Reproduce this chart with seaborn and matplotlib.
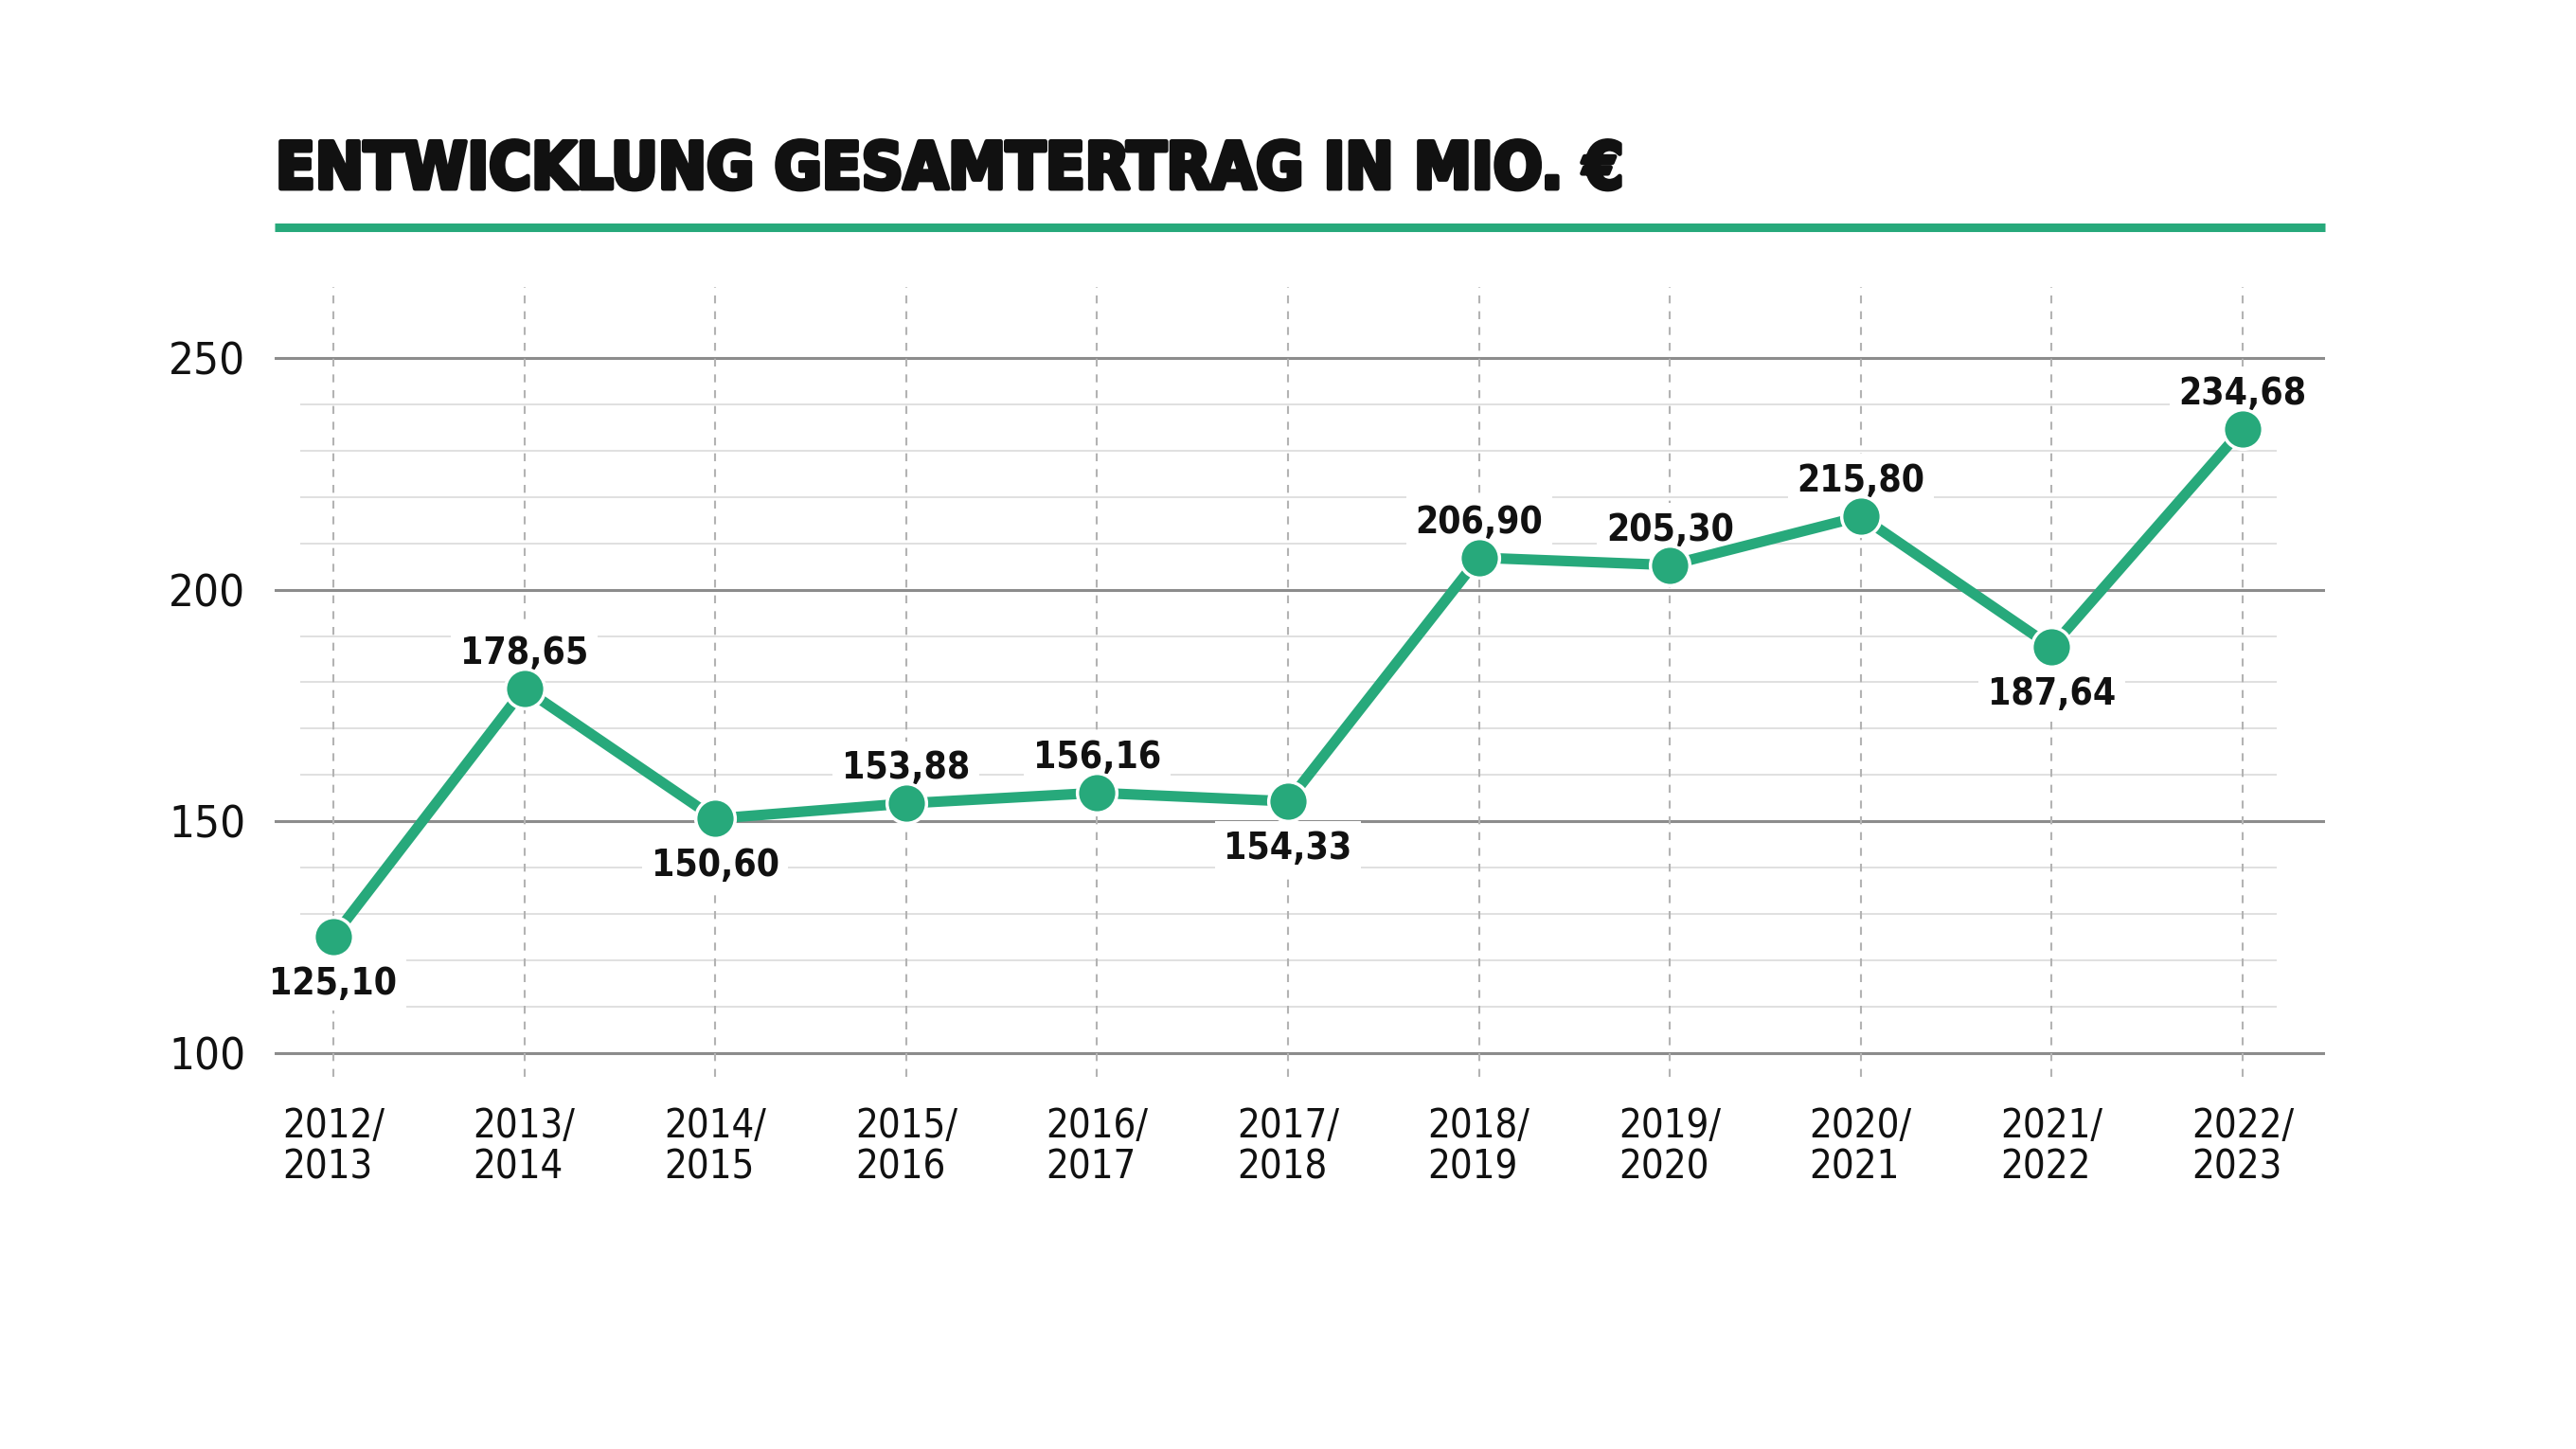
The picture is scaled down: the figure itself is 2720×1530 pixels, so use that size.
import matplotlib
matplotlib.use("Agg")
import matplotlib.pyplot as plt
import matplotlib.patheffects as pe
from matplotlib.lines import Line2D
import seaborn as sns
import pandas as pd

# ---- data ----
seasons = ["2012/\n2013", "2013/\n2014", "2014/\n2015", "2015/\n2016", "2016/\n2017",
           "2017/\n2018", "2018/\n2019", "2019/\n2020", "2020/\n2021", "2021/\n2022",
           "2022/\n2023"]
ertrag = [125.10, 178.65, 150.60, 153.88, 156.16, 154.33, 206.90, 205.30, 215.80, 187.64, 234.68]
value_labels = ["125,10", "178,65", "150,60", "153,88", "156,16", "154,33",
                "206,90", "205,30", "215,80", "187,64", "234,68"]
label_below = [True, False, True, False, False, True, False, False, False, True, False]
major_ticks = [100, 150, 200, 250]
minor_ticks = [110, 120, 130, 140, 160, 170, 180, 190, 210, 220, 230, 240]
title = "ENTWICKLUNG GESAMTERTRAG IN MIO. €"

GREEN = "#27a97b"
W, H = 2720, 1530

sns.set_theme(style="white")
plt.rcParams["font.family"] = ["DejaVu Sans"]
plt.rcParams["font.stretch"] = "condensed"

fig = plt.figure(figsize=(W / 100, H / 100), dpi=100)
fig.patch.set_facecolor("white")

ax_l, ax_r, ax_t, ax_b = 290, 2455, 303, 1137
ax = fig.add_axes([ax_l / W, 1 - ax_b / H, (ax_r - ax_l) / W, (ax_b - ax_t) / H])
ax.set_facecolor("white")

x0_px, dx_px = 352, 201.6
xlim = ((ax_l - x0_px) / dx_px, (ax_r - x0_px) / dx_px)
ylim = (94.9, 265.3)

df = pd.DataFrame({"pos": list(range(len(seasons))), "ertrag": ertrag})
sns.lineplot(data=df, x="pos", y="ertrag", ax=ax, color=GREEN, linewidth=8,
             marker="o", markersize=30, markerfacecolor=GREEN,
             markeredgecolor="white", markeredgewidth=2.5, zorder=3)

ax.set_xlim(*xlim)
ax.set_ylim(*ylim)

# minor horizontal lines (shorter)
mx0 = (317 - x0_px) / dx_px
mx1 = (2404 - x0_px) / dx_px
ax.hlines(minor_ticks, mx0, mx1, colors="#e0e0e0", linewidth=1.4, zorder=0)
# major horizontal lines
for t in major_ticks:
    ax.axhline(t, color="#8c8c8c", linewidth=2.2, zorder=0.5)

ax.set_xticks(range(len(seasons)))
ax.set_xticklabels(seasons, fontsize=30, color="#111111", linespacing=1.05,
                   multialignment="left", fontstretch="condensed")
ax.set_yticks(major_ticks)
ax.set_yticklabels([str(t) for t in major_ticks], fontsize=34, color="#111111",
                   fontstretch="condensed")
ax.tick_params(axis="both", length=0)
ax.tick_params(axis="x", pad=22)
ax.tick_params(axis="y", pad=22)
ax.set_xlabel("")
ax.set_ylabel("")

ax.xaxis.grid(True, linestyle=(0, (4, 4)), color="#b3b3b3", linewidth=1.5, zorder=0)
ax.yaxis.grid(False)
ax.set_axisbelow(True)
for s in ax.spines.values():
    s.set_visible(False)

for i, (v, lab, below) in enumerate(zip(ertrag, value_labels, label_below)):
    off = -22 if below else 13
    ax.annotate(lab, (i, v), xytext=(0, off), textcoords="offset points",
                ha="center", va=("top" if below else "bottom"),
                fontsize=28, fontweight="bold", fontstretch="condensed",
                color="#111111", zorder=2,
                bbox=dict(boxstyle="square,pad=0.25", facecolor="white", edgecolor="none"))

# title
fig.text(291 / W, 1 - 180 / H, title, fontsize=49, fontweight="bold",
         fontstretch="condensed", color="#111111", va="center", ha="left",
         path_effects=[pe.withStroke(linewidth=3.5, foreground="#111111")])
# green rule under title
fig.add_artist(Line2D([290 / W, 2455 / W], [1 - 240 / H, 1 - 240 / H],
                      transform=fig.transFigure, color=GREEN, linewidth=6.5,
                      solid_capstyle="butt"))

fig.savefig("out.png", dpi=100, facecolor="white")
